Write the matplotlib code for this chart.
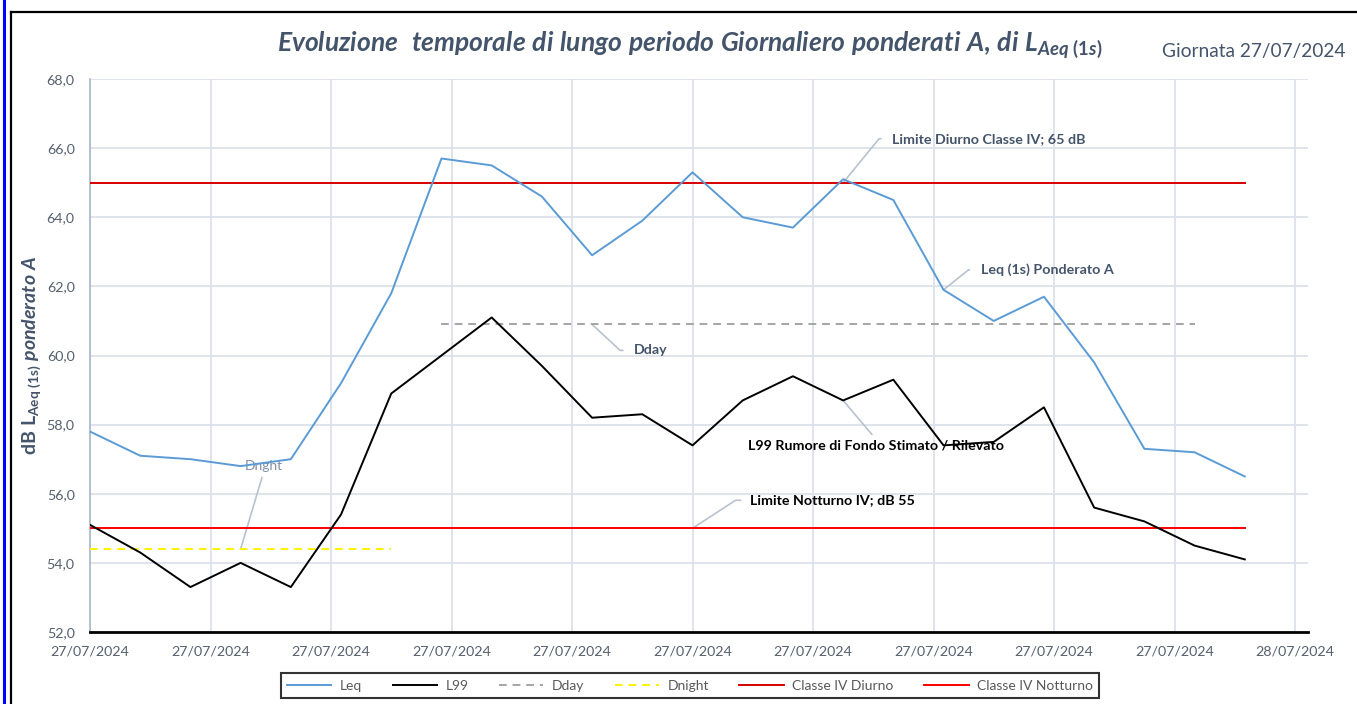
import numpy as np, matplotlib
matplotlib.use("Agg"); import matplotlib.pyplot as plt
from matplotlib.lines import Line2D

plt.rcParams['font.family'] = ['Lato', 'DejaVu Sans']
plt.rcParams['mathtext.fontset'] = 'custom'
plt.rcParams['mathtext.rm'] = 'Lato:bold'
plt.rcParams['mathtext.it'] = 'Lato:bold:italic'
plt.rcParams['mathtext.bf'] = 'Lato:bold'

# hourly values, 27/07/2024 00:00 .. 23:00
hours = list(range(24))
leq = [57.8, 57.1, 57.0, 56.8, 57.0, 59.2, 61.8, 65.7, 65.5, 64.6, 62.9, 63.9,
       65.3, 64.0, 63.7, 65.1, 64.5, 61.9, 61.0, 61.7, 59.8, 57.3, 57.2, 56.5]
l99 = [55.1, 54.3, 53.3, 54.0, 53.3, 55.4, 58.9, 60.0, 61.1, 59.7, 58.2, 58.3,
       57.4, 58.7, 59.4, 58.7, 59.3, 57.4, 57.5, 58.5, 55.6, 55.2, 54.5, 54.1]
dday_hours = list(range(7, 23)); dday_val = 60.9
dnight_hours = list(range(0, 7)); dnight_val = 54.4
lim_diurno = 65.0
lim_notturno = 55.0
xtick_labels = ["27/07/2024"] * 10 + ["28/07/2024"]

W, H = 1357, 704
fig = plt.figure(figsize=(W/100, H/100), dpi=100)
ax = fig.add_axes([90/W, 1-632/H, (1308-90)/W, (632-79)/H])

ax.plot(hours, leq, color='#5B9BD5', lw=1.4, label='Leq', zorder=4)
ax.plot(hours, l99, color='black', lw=1.4, label='L99', zorder=4)
ax.plot(dday_hours, [dday_val]*len(dday_hours), color='#A5A5A5', lw=1.4, ls=(0, (4, 3)), label='Dday', zorder=3)
ax.plot(dnight_hours, [dnight_val]*len(dnight_hours), color='#FFF200', lw=1.4, ls=(0, (4, 3)), label='Dnight', zorder=3)
ax.plot(hours, [lim_diurno]*len(hours), color='#D80000', lw=1.4, label='Classe IV Diurno', zorder=3)
ax.plot(hours, [lim_notturno]*len(hours), color='#FF0000', lw=1.4, label='Classe IV Notturno', zorder=3)

ax.set_xlim(0, 24*1218/1205)
ax.set_ylim(52, 68)
ax.set_xticks(np.arange(11)*2.4)
ax.set_xticklabels(xtick_labels)
ax.set_yticks(np.arange(52, 68.1, 2))
ax.set_yticklabels([f"{v:.1f}".replace('.', ',') for v in np.arange(52, 68.1, 2)])
ax.tick_params(length=0, labelsize=10.3, labelcolor='#56606E')
ax.tick_params(axis='x', pad=10)
ax.tick_params(axis='y', pad=11)
ax.grid(color='#DCE2EB', lw=1.3, zorder=0)
ax.set_axisbelow(True)
for s in ['top', 'right']:
    ax.spines[s].set_visible(False)
ax.spines['left'].set_color('#A9B6C8'); ax.spines['left'].set_linewidth(1.2)
ax.spines['bottom'].set_color('black'); ax.spines['bottom'].set_linewidth(2)

ax.set_ylabel(r"$\mathrm{dB\ L}_{\mathrm{Aeq\ (1s)}}\ \mathit{ponderato\ A}$", fontsize=14, color='#44546A')
ax.yaxis.set_label_coords((43-90)/1218, 0.5)

fig.text(690/W, 1-45/H, r"$\mathit{Evoluzione\ \ temporale\ di\ lungo\ periodo\ Giornaliero\ ponderati\ A{,}\ di\ L}_{\mathit{Aeq\ (1s)}}$",
         fontsize=19, color='#44546A', ha='center', va='center')
fig.text(1345/W, 1-52/H, "Giornata 27/07/2024", fontsize=13.8, color='#44546A', ha='right', va='center')


def callout(x, y, txt, dx, dy, color, stub=8, gap=6, weight='bold'):
    # label offset by (dx, dy) pixels, leader = diagonal + short horizontal stub
    ang = np.degrees(np.arctan2(dy, dx - stub - gap))
    ax.annotate(txt, xy=(x, y), xytext=(dx, dy), textcoords='offset pixels',
                ha='left', va='center', color=color, fontsize=10.3, fontweight=weight, zorder=2,
                arrowprops=dict(arrowstyle='-', color='#B8C2CE', lw=1.2, shrinkA=gap, shrinkB=0,
                                relpos=(0, 0.5), connectionstyle=f"angle,angleA=0,angleB={ang},rad=0"))


callout(15, lim_diurno, "Limite Diurno Classe IV; 65 dB", 49, 44, '#44546A', stub=7)
callout(17, leq[17], "Leq (1s) Ponderato A", 37, 20, '#44546A', stub=6)
callout(10, dday_val, "Dday", 42, -26, '#44546A', stub=8)
callout(12, lim_notturno, "Limite Notturno IV; dB 55", 58, 28, 'black', stub=10, gap=5)

ax.annotate("L99 Rumore di Fondo Stimato / Rilevato", xy=(15, l99[15]), xytext=(33, -45), textcoords='offset pixels',
            ha='center', va='center', color='black', fontsize=10.3, fontweight='bold', zorder=2,
            arrowprops=dict(arrowstyle='-', color='#B8C2CE', lw=1.2, shrinkA=2, shrinkB=0, relpos=(0.5, 1)))
ax.annotate("Dnght", xy=(3, dnight_val), xytext=(23, 83), textcoords='offset pixels',
            ha='center', va='center', color='#7F8FA6', fontsize=10, zorder=2,
            arrowprops=dict(arrowstyle='-', color='#B8C2CE', lw=1.2, shrinkA=2, shrinkB=0, relpos=(0.5, 0)))

leg = fig.legend(loc='center', bbox_to_anchor=(690/W, 1-685.5/H), ncol=6, frameon=True, fancybox=False,
                 fontsize=10, handlelength=3.2, columnspacing=2.2, borderpad=0.45, handletextpad=0.6)
leg.get_frame().set_edgecolor('black'); leg.get_frame().set_linewidth(1.5)
for t in leg.get_texts():
    t.set_color('#595959')

# outer frame
fig.add_artist(Line2D([4/W, 4/W], [0, 1], color='#0000FF', lw=2.2, transform=fig.transFigure))
fig.add_artist(Line2D([11/W, 11/W], [0, 1-12/H], color='black', lw=1.6, transform=fig.transFigure))
fig.add_artist(Line2D([11/W, 1], [1-12/H, 1-12/H], color='black', lw=1.6, transform=fig.transFigure))

fig.savefig("out.png", dpi=100)
